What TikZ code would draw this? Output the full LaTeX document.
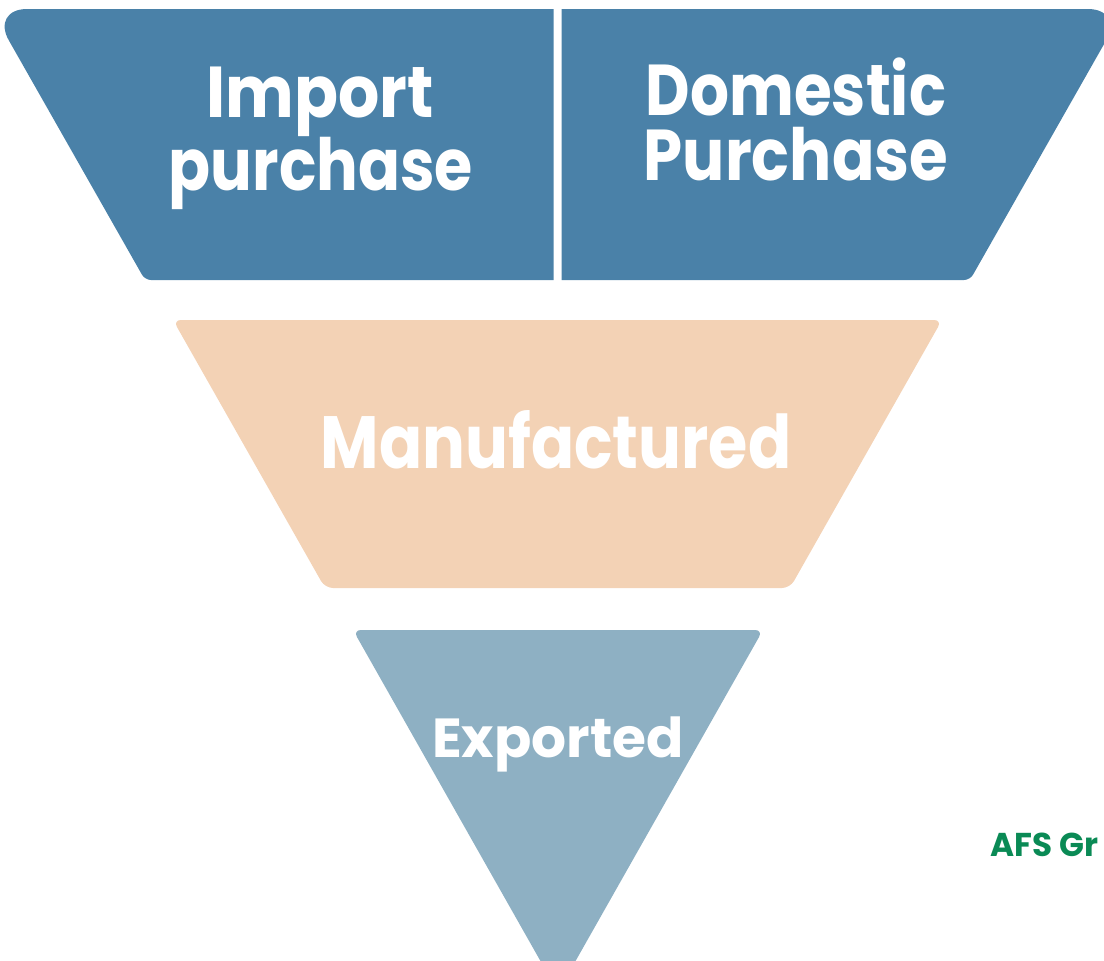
\documentclass[tikz,border=0pt]{standalone}
\usepackage{fontspec}
\usepackage{graphicx}
\newfontfamily\pop{Poppins}
\definecolor{topblue}{HTML}{4A81A8}
\definecolor{peach}{HTML}{F3D2B5}
\definecolor{lightblue}{HTML}{8EB0C3}
\definecolor{afsgreen}{HTML}{0A8A55}
\newcommand{\squeeze}[2]{\scalebox{#1}[1]{#2}}
\begin{document}
\begin{tikzpicture}[x=1pt,y=-1pt,
  bigtext/.style={text=white,inner sep=0pt,anchor=base,font=\pop\bfseries\fontsize{72}{72}\selectfont},
  midtext/.style={text=white,inner sep=0pt,anchor=base,font=\pop\bfseries\fontsize{74}{74}\selectfont},
  smalltext/.style={text=white,inner sep=0pt,anchor=base,font=\pop\bfseries\fontsize{55}{55}\selectfont}]
\useasboundingbox (0,0) rectangle (1104,961);
\clip (0,0) rectangle (1104,961);
% top left piece
\fill[topblue] (553.5,280) -- (553.5,9) [rounded corners=36pt] -- (-9,9) [rounded corners=6pt] -- (145,280) [sharp corners] -- cycle;
% top right piece
\fill[topblue] (561.5,9) -- (561.5,280) [rounded corners=6pt] -- (970,280) [rounded corners=36pt] -- (1124,9) [sharp corners] -- cycle;
% middle
\fill[peach, rounded corners=8pt] (173,320) -- (942,320) -- (790,588) -- (325,588) -- cycle;
% bottom
\fill[lightblue, rounded corners=8pt] (353,630) -- (763,630) -- (558,992) -- cycle;
% texts
\node[bigtext] (imp1) at (320,117) {\squeeze{0.9}{Import}};
\node[bigtext] (imp2) at (321,190) {\squeeze{0.86}{purchase}};
\node[bigtext] (dom1) at (796,115) {\squeeze{0.85}{Domestic}};
\node[bigtext] (dom2) at (796,180) {\squeeze{0.87}{Purchase}};
\node[midtext] (man) at (556,468) {\squeeze{0.86}{Manufactured}};
\node[smalltext] (exp) at (558,757) {Exported};
\node[inner sep=0pt,anchor=base west,text=afsgreen,font=\pop\bfseries\fontsize{33}{33}\selectfont] (afs) at (990,856) {\squeeze{0.99}{AFS Gr}};
\end{tikzpicture}
\end{document}
